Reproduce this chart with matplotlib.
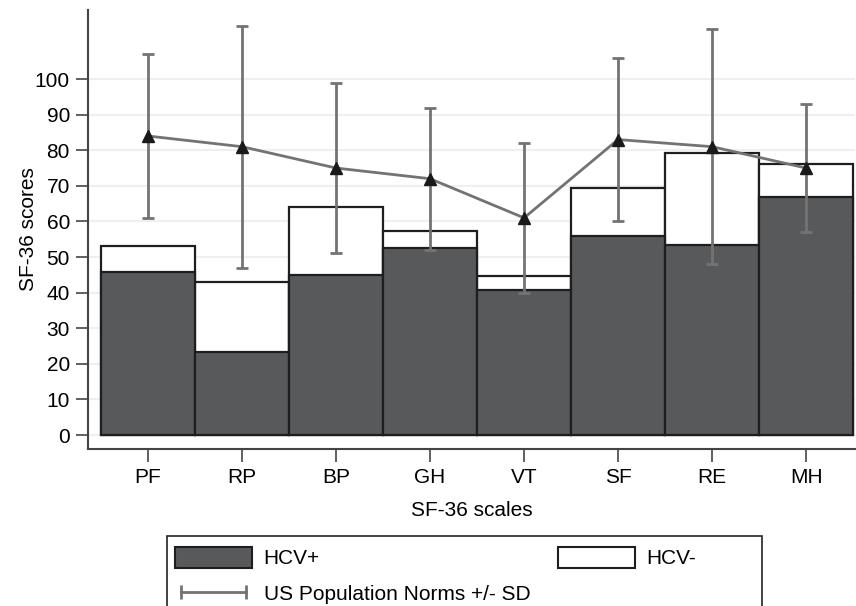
# SF-36 scores: HCV+ / HCV- bars with US norms +/- SD
import matplotlib.pyplot as plt
import numpy as np
from matplotlib.lines import Line2D
from matplotlib.patches import Patch, Rectangle

plt.rcParams['font.family'] = ['Liberation Sans', 'DejaVu Sans']

scales = ['PF', 'RP', 'BP', 'GH', 'VT', 'SF', 'RE', 'MH']
hcv_pos = [45.8, 23.3, 45.0, 52.5, 40.7, 55.8, 53.3, 67.0]
hcv_neg = [53.0, 43.0, 64.0, 57.3, 44.7, 69.3, 79.3, 76.0]
norm_mean = [84, 81, 75, 72, 61, 83, 81, 75]
norm_low = [61, 47, 51, 52, 40, 60, 48, 57]
norm_high = [107, 115, 99, 92, 82, 106, 114, 93]

x = np.arange(1, len(scales) + 1)
mean = np.array(norm_mean)
err = [mean - np.array(norm_low), np.array(norm_high) - mean]

dark = '#58595b'
edge = '#1e1e1e'
grey = '#737373'
fs = 15

fig = plt.figure(figsize=(8.56, 6.06), dpi=100)
ax = fig.add_axes([88 / 856, 1 - 449 / 606, 767 / 856, 439 / 606])

# grid lines (very faint)
for v in range(0, 101, 10):
    ax.axhline(v, color='#efefef', lw=1.5, zorder=0)

# HCV- bar behind, HCV+ bar in front
ax.bar(x, hcv_neg, width=1.0, color='white', edgecolor=edge, lw=1.6, zorder=1)
ax.bar(x, hcv_pos, width=1.0, color=dark, edgecolor=edge, lw=1.6, zorder=2)

# US norms +/- SD
ax.errorbar(x, mean, yerr=err, fmt='none', ecolor=grey, elinewidth=2,
            capsize=4, capthick=2, zorder=3)
ax.plot(x, mean, color=grey, lw=2, zorder=4)
ax.plot(x, mean, ls='none', marker='^', color='#1a1a1a', ms=9, zorder=5)

ax.set_xlim(0.362, 8.52)
ax.set_ylim(-3.93, 119.4)
ax.set_yticks(range(0, 101, 10))
ax.set_xticks(x)
ax.set_xticklabels(scales)
ax.tick_params(axis='both', labelsize=fs, length=9, width=1.2, color='#444444', pad=5)
ax.tick_params(axis='y', pad=4)

for s in ['top', 'right']:
    ax.spines[s].set_visible(False)
for s in ['left', 'bottom']:
    ax.spines[s].set_color('#444444')
    ax.spines[s].set_linewidth(1.5)

ax.set_xlabel('SF-36 scales', fontsize=fs, labelpad=10)
ax.set_ylabel('SF-36 scores', fontsize=fs, labelpad=-2)

# legend: frame drawn by hand, entries in two legends
h_pos = Patch(facecolor=dark, edgecolor=edge, lw=1.5)
h_neg = Patch(facecolor='white', edgecolor=edge, lw=1.5)
h_norm = Line2D([], [], color=grey, lw=2, marker='|', ms=10, mew=2)
common = dict(loc='upper left', fontsize=fs, numpoints=2,
              handlelength=3.7, handleheight=1.15, handletextpad=0.55,
              borderpad=0, labelspacing=0.7, borderaxespad=0, frameon=False)
leg1 = fig.legend([h_pos, h_norm], ['HCV+', 'US Population Norms +/- SD'],
                  bbox_to_anchor=(175 / 856, 1 - 547 / 606), **common)
leg2 = fig.legend([h_neg], ['HCV-'],
                  bbox_to_anchor=(558 / 856, 1 - 547 / 606), **common)
fig.patches.append(Rectangle((167 / 856, -0.05), 595 / 856, 0.05 + 70 / 606,
                             transform=fig.transFigure, fill=False,
                             edgecolor='#222222', lw=1.2))

fig.savefig('out.png', dpi=100)
